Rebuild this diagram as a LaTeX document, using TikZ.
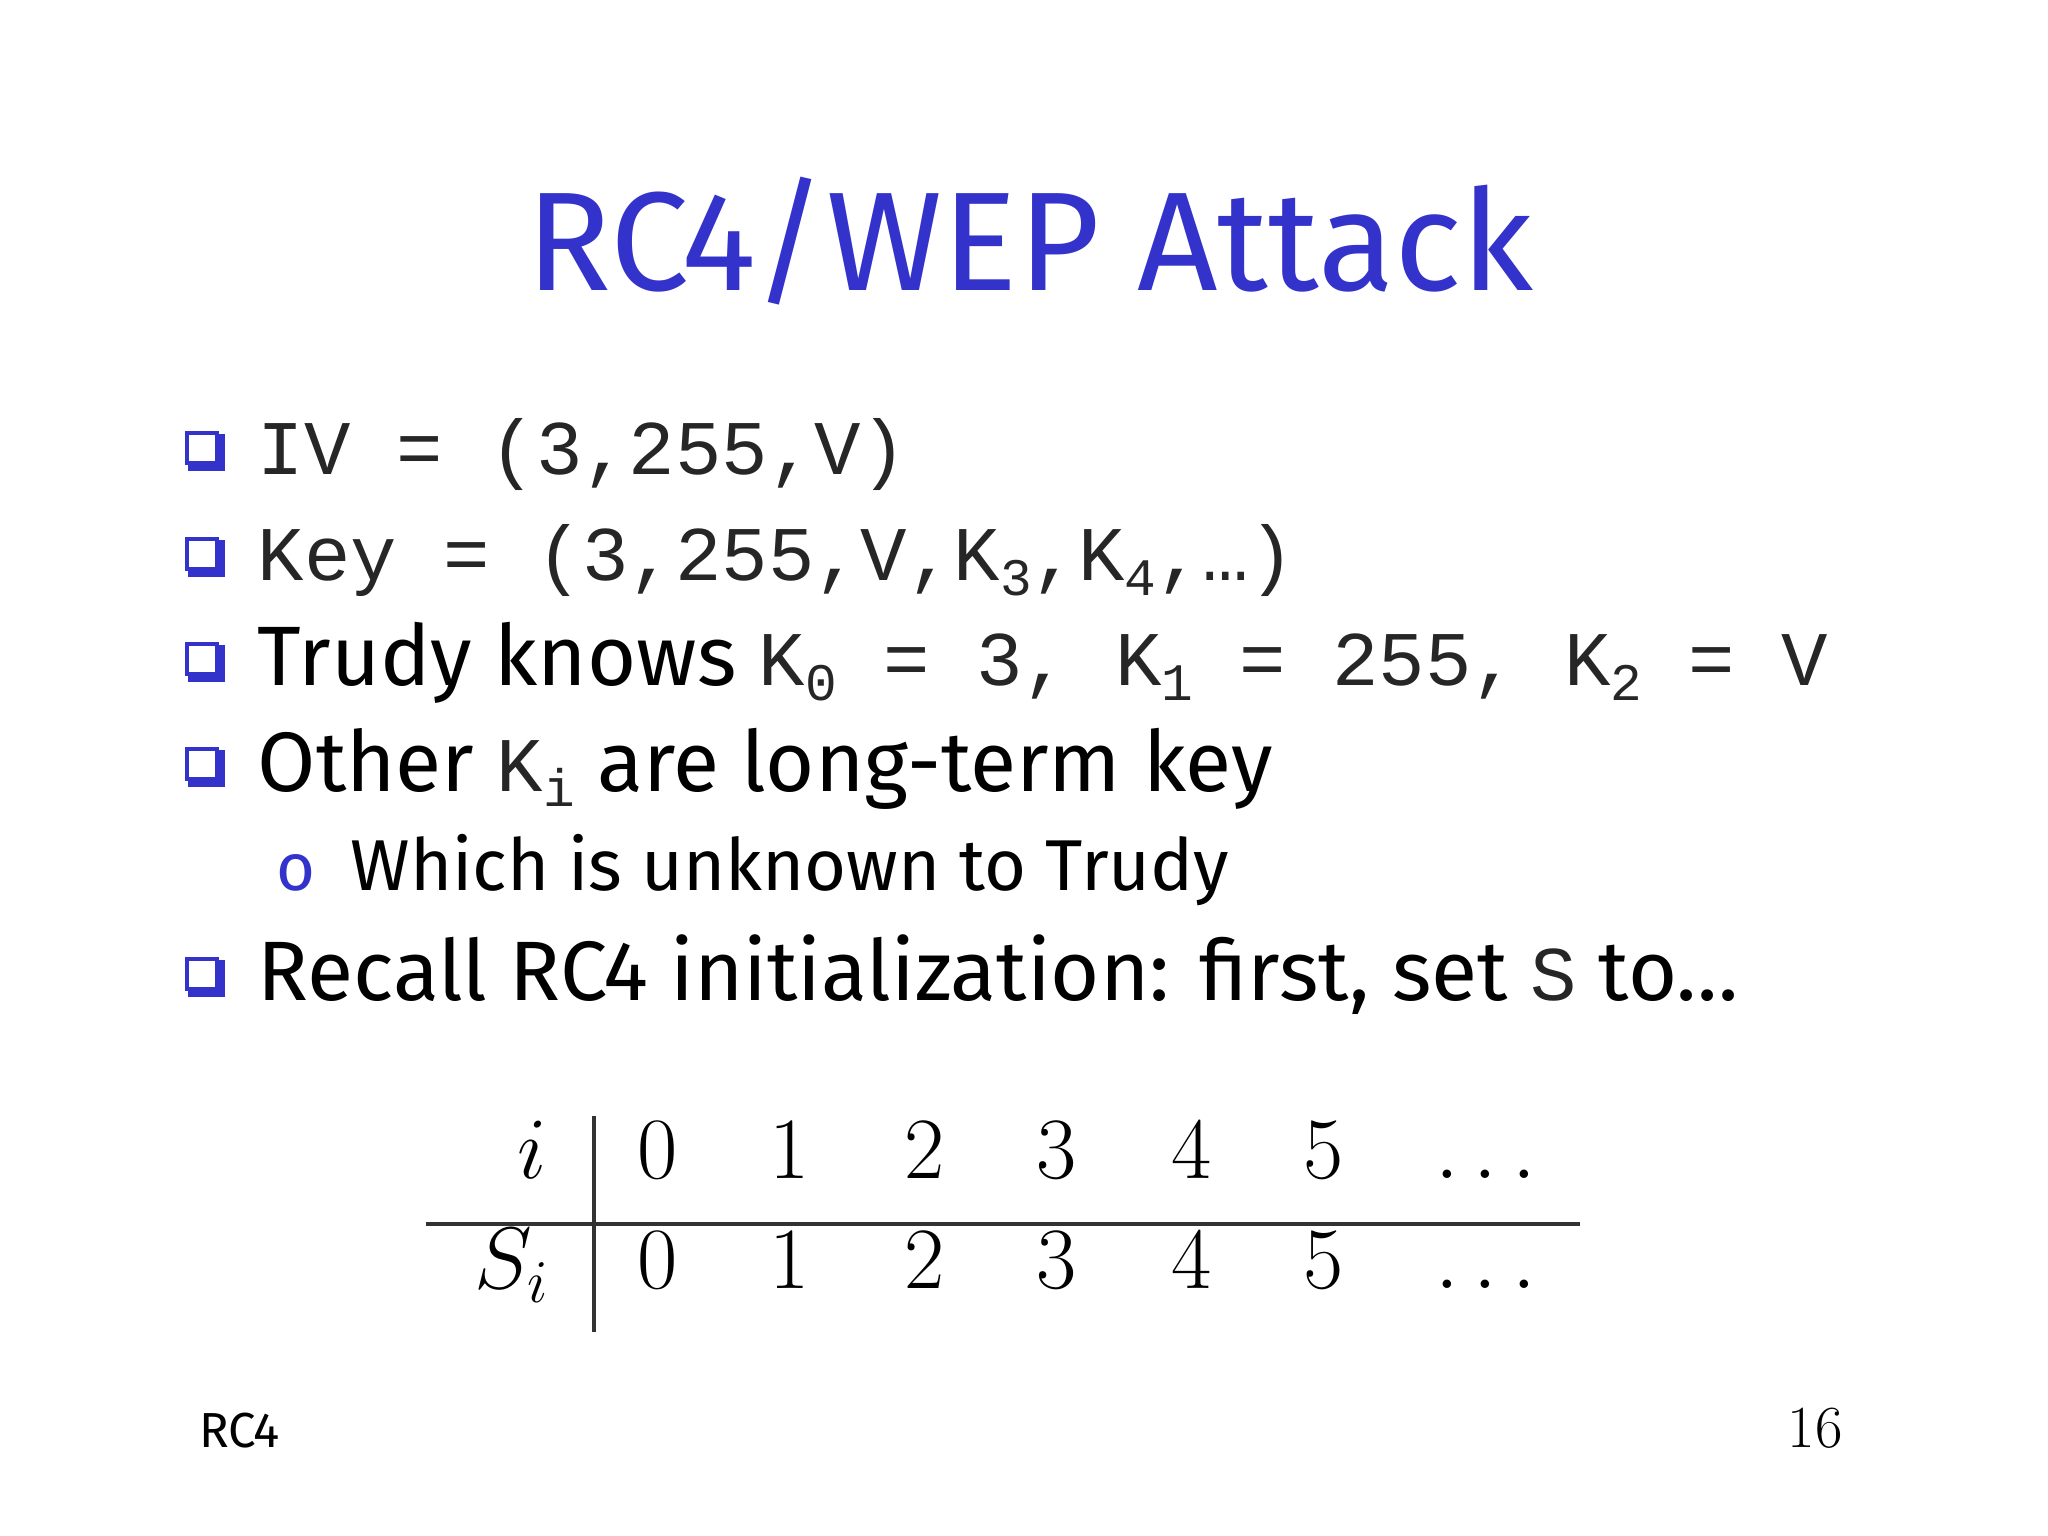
\documentclass[tikz,border=0pt]{standalone}
\usepackage{fontspec}
\setmainfont{Fira Sans}
\setmonofont{Liberation Mono}
\newfontfamily\lmserif{Latin Modern Roman}
\definecolor{tblue}{RGB}{51,51,204}
\newcommand{\tsub}[1]{\raisebox{-0.35ex}{\fontsize{15}{15}\selectfont\ttfamily #1}}
\newcommand{\mono}{\ttfamily\fontsize{22}{24}\selectfont\color{black!85}}
\begin{document}
\begin{tikzpicture}[x=1cm,y=1cm,
  itm/.style={anchor=base west,inner sep=0pt,font=\fontsize{24}{26}\selectfont},
  sq/.style={draw=tblue,fill=white,line width=1.3pt,minimum size=0.3cm,inner sep=0pt},
  tbl/.style={anchor=base,inner sep=0pt,font=\fontsize{27}{27}\selectfont}]
\useasboundingbox (0,0) rectangle (20.48,15.36);
\node[anchor=base,text=tblue,font=\fontsize{40}{44}\selectfont] (title) at (10.30,12.45) {RC4/WEP Attack};
% bullets
\foreach \n/\y in {b1/10.88,b2/9.82,b3/8.77,b4/7.72,b6/5.62}{
  \node[sq] (\n) at (2.02,\y) {};
  \fill[tblue] ([xshift=1pt,yshift=-1.6pt]\n.south west) rectangle ([xshift=1.6pt]\n.south east);
  \fill[tblue] ([yshift=-1.6pt]\n.south east) rectangle ([xshift=1.6pt,yshift=-1pt]\n.north east);
}
\node[itm] (t1) at (2.57,10.61) {\mono IV = (3,255,V)};
\node[itm] (t2) at (2.57,9.55) {\mono Key = (3,255,V,K\tsub{3},K\tsub{4},\ldots)};
\node[itm] (t3) at (2.57,8.50) {Trudy knows {\mono K\tsub{0} = 3, K\tsub{1} = 255, K\tsub{2} = V}};
\node[itm] (t4) at (2.57,7.44) {Other {\mono K\tsub{i}} are long-term key};
\node[anchor=base,text=tblue,font=\fontsize{19}{19}\selectfont] (o5) at (2.96,6.45) {o};
\node[itm,font=\fontsize{20.5}{22}\selectfont] (t5) at (3.50,6.45) {Which is unknown to Trudy};
\node[itm] (t6) at (2.57,5.35) {Recall RC4 initialization: first, set {\mono S} to\ldots};
% table
\node[tbl] (hi) at (5.32,3.57) {$i$};
\node[tbl] (hs) at (5.12,2.47) {$S_i$};
\foreach \v/\x in {0/6.58,1/7.90,2/9.25,3/10.57,4/11.92,5/13.24}{
  \node[tbl] (a\v) at (\x,3.57) {$\v$};
  \node[tbl] (c\v) at (\x,2.47) {$\v$};
}
\node[tbl] (ad) at (14.86,3.57) {$\ldots$};
\node[tbl] (cd) at (14.86,2.47) {$\ldots$};
\coordinate (vt) at (5.94,4.20);
\coordinate (vb) at (5.94,2.04);
\coordinate (hl) at (4.26,3.12);
\coordinate (hr) at (15.80,3.12);
\draw[line width=1.2pt,black!80] (vt) -- (vb);
\draw[line width=1.2pt,black!80] (hl) -- (hr);
% footer
\node[anchor=base west,font=\fontsize{14}{14}\selectfont] (f1) at (1.87,0.88) {RC4};
\node[anchor=base east,font=\lmserif\fontsize{17}{17}\selectfont] (f2) at (18.55,0.88) {16};
\end{tikzpicture}
\end{document}
